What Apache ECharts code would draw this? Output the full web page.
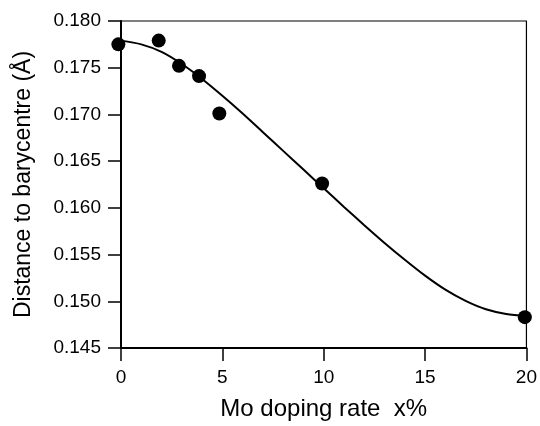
<!DOCTYPE html>
<html>
<head>
<meta charset="utf-8">
<script src="https://cdn.jsdelivr.net/npm/echarts@6/dist/echarts.min.js"></script>
<style>
html,body{margin:0;padding:0;background:#fff;}
#chart{width:540px;height:426px;}
</style>
</head>
<body>
<div id="chart"></div>
<script>
// Measured data points
var pointX = [-0.13, 1.86, 2.86, 3.85, 4.85, 9.92, 19.92];
var pointY = [0.1775, 0.1779, 0.1752, 0.1741, 0.1701, 0.1626, 0.1483];
// Fitted curve
var curveX = [0, 1, 2, 3, 4, 5, 6, 7, 8, 9, 10, 11, 12, 13, 14, 15, 16, 17, 18, 19, 20];
var curveY = [0.1779, 0.1775, 0.1767, 0.1754, 0.1738, 0.1720, 0.1701, 0.1681, 0.1661, 0.1641, 0.1621,
              0.1601, 0.15815, 0.15625, 0.15445, 0.15275, 0.15125, 0.15005, 0.14915, 0.14865, 0.14845];
var xTicks = [0, 5, 10, 15, 20];
var yTicks = [0.145, 0.150, 0.155, 0.160, 0.165, 0.170, 0.175, 0.180];
var xTitle = 'Mo doping rate  x%';
var yTitle = 'Distance to barycentre (\u00C5)';

var pts = pointX.map(function (x, i) { return [x, pointY[i]]; });
var crv = curveX.map(function (x, i) { return [x, curveY[i]]; });

var font = '"Liberation Sans", Arial, sans-serif';
var chart = echarts.init(document.getElementById('chart'), null, {renderer: 'canvas'});
chart.setOption({
  animation: false,
  backgroundColor: '#fff',
  grid: {left: 121, right: 11, top: 21, bottom: 73, show: true, borderColor: '#000', borderWidth: 1.2, backgroundColor: 'transparent'},
  xAxis: {
    type: 'value', min: xTicks[0], max: xTicks[xTicks.length - 1], interval: 5,
    name: xTitle, nameLocation: 'middle', nameGap: 49,
    nameTextStyle: {fontFamily: font, fontSize: 24, color: '#000'},
    axisLine: {show: true, lineStyle: {color: '#000', width: 2}},
    axisTick: {show: true, inside: false, length: 13, lineStyle: {color: '#000', width: 1.5}},
    axisLabel: {fontFamily: font, fontSize: 19, color: '#000', margin: 20},
    splitLine: {show: false}
  },
  yAxis: {
    type: 'value', min: yTicks[0], max: yTicks[yTicks.length - 1], interval: 0.005,
    name: yTitle, nameLocation: 'middle', nameGap: 86,
    nameTextStyle: {fontFamily: font, fontSize: 23, color: '#000'},
    axisLine: {show: true, lineStyle: {color: '#000', width: 2}},
    axisTick: {show: true, inside: false, length: 13, lineStyle: {color: '#000', width: 1.5}},
    axisLabel: {fontFamily: font, fontSize: 19, color: '#000', margin: 20,
      formatter: function (v) { return v.toFixed(3); }},
    splitLine: {show: false}
  },
  series: [
    {
      type: 'line', data: crv, smooth: 0.3, showSymbol: false, symbol: 'none',
      lineStyle: {color: '#000', width: 2}, z: 2
    },
    {
      type: 'scatter', data: pts, symbol: 'circle', symbolSize: 14, clip: false,
      itemStyle: {color: '#000', opacity: 1}, z: 3
    }
  ]
});
</script>
</body>
</html>
